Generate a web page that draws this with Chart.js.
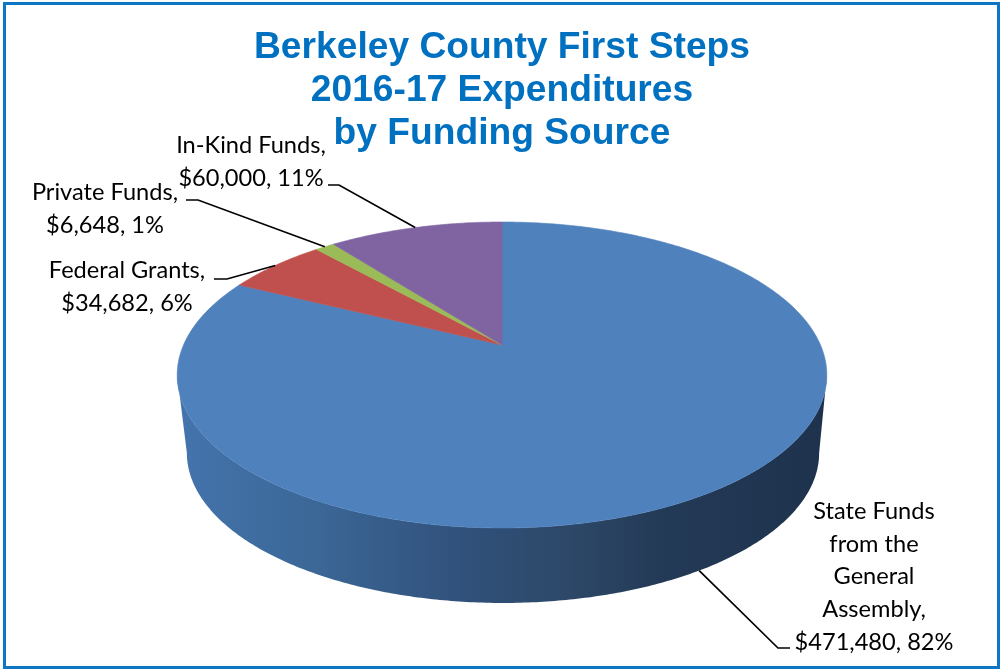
<!DOCTYPE html>
<html>
<head>
<meta charset="utf-8">
<title>Berkeley County First Steps</title>
<script src="https://cdn.jsdelivr.net/npm/chart.js@4"></script>
<style>
  html, body { margin: 0; padding: 0; background: #fff; }
  canvas { display: block; }
</style>
</head>
<body>
<canvas id="pie" width="1000" height="669"></canvas>
<script>
// Data
const titleLines = ['Berkeley County First Steps', '2016-17 Expenditures', 'by Funding Source'];
const categories = ['State Funds from the General Assembly', 'Federal Grants', 'Private Funds', 'In-Kind Funds'];
const amounts = [471480, 34682, 6648, 60000];
const amountLabels = ['$471,480', '$34,682', '$6,648', '$60,000'];
const percentLabels = ['82%', '6%', '1%', '11%'];
const sliceColors = ['#4f81bd', '#c0504d', '#9bbb59', '#8064a2'];

// Text lines per label, in the same order as categories
const labelLines = [
  ['State Funds', 'from the', 'General', 'Assembly,', amountLabels[0] + ', ' + percentLabels[0]],
  [categories[1] + ',', amountLabels[1] + ', ' + percentLabels[1]],
  [categories[2] + ',', amountLabels[2] + ', ' + percentLabels[2]],
  [categories[3] + ',', amountLabels[3] + ', ' + percentLabels[3]]
];

// Label placement: text centre, first baseline, leader start and elbow
const labelBoxes = [
  { x: 874, y: 519, from: [790, 648], elbow: [778, 648] },
  { x: 127, y: 278, from: [214, 279], elbow: [227, 279] },
  { x: 105, y: 200, from: [186, 200], elbow: [198, 200] },
  { x: 251, y: 153, from: [328, 185], elbow: [339, 185] }
];

// Perspective of the disc: the circle is projected, so the centre is not the ellipse centre
const K = -0.196;
const topDisc = { x: 502, y: 345, rx: 318.5, ry: 147.1 };
const baseDisc = { x: 503, y: 423.6, rx: 310, ry: 144.2 };

function project(disc, a) {
  const d = 1 + K * Math.sin(a);
  return [disc.x + disc.rx * Math.cos(a) / d, disc.y + disc.ry * Math.sin(a) / d];
}

function rimPoints(disc, a0, a1) {
  const pts = [];
  const n = Math.max(2, Math.ceil(Math.abs(a1 - a0) / 0.01));
  for (let i = 0; i <= n; i++) pts.push(project(disc, a0 + (a1 - a0) * i / n));
  return pts;
}

function drawWall(ctx, arc) {
  // only the front part of the side can be seen
  const vis = Math.asin(-K);
  const a0 = Math.max(arc.startAngle, vis);
  const a1 = Math.min(arc.endAngle, Math.PI - vis);
  if (a1 <= a0) return;
  const grad = ctx.createLinearGradient(178, 0, 827, 0);
  grad.addColorStop(0, '#4474ad');
  grad.addColorStop(0.2, '#3c6898');
  grad.addColorStop(0.45, '#30507a');
  grad.addColorStop(0.6, '#2d4868');
  grad.addColorStop(0.75, '#233a56');
  grad.addColorStop(1, '#1e324d');
  const pts = rimPoints(topDisc, a0, a1).concat(rimPoints(baseDisc, a1, a0));
  ctx.beginPath();
  pts.forEach((p, i) => (i ? ctx.lineTo(p[0], p[1]) : ctx.moveTo(p[0], p[1])));
  ctx.closePath();
  ctx.fillStyle = grad;
  ctx.fill();
}

function drawSlice(ctx, arc) {
  const pts = rimPoints(topDisc, arc.startAngle, arc.endAngle);
  ctx.beginPath();
  ctx.moveTo(topDisc.x, topDisc.y);
  pts.forEach(p => ctx.lineTo(p[0], p[1]));
  ctx.closePath();
  ctx.fillStyle = arc.options.backgroundColor;
  ctx.strokeStyle = arc.options.backgroundColor;
  ctx.lineWidth = 0.6;
  ctx.fill();
  ctx.stroke();
}

function drawLabel(ctx, arc, i) {
  const box = labelBoxes[i];
  const mid = (arc.startAngle + arc.endAngle) / 2;
  // the state label points at the lower edge of the side wall
  const end = project(i === 0 ? baseDisc : topDisc, mid);
  ctx.beginPath();
  ctx.moveTo(box.from[0], box.from[1]);
  ctx.lineTo(box.elbow[0], box.elbow[1]);
  ctx.lineTo(end[0], end[1]);
  ctx.strokeStyle = '#000';
  ctx.lineWidth = 1.7;
  ctx.stroke();

  ctx.fillStyle = '#000';
  ctx.font = '23.6px Lato';
  ctx.textAlign = 'center';
  ctx.textBaseline = 'alphabetic';
  labelLines[i].forEach((line, j) => ctx.fillText(line, box.x, box.y + j * 32.7));
}

// Draws the arcs Chart.js laid out as a tilted 3D disc
const pie3d = {
  id: 'pie3d',
  beforeDatasetsDraw(chart) {
    const ctx = chart.ctx;
    const arcs = chart.getDatasetMeta(0).data;
    ctx.save();
    arcs.forEach(arc => drawWall(ctx, arc));
    arcs.forEach(arc => drawSlice(ctx, arc));
    arcs.forEach((arc, i) => drawLabel(ctx, arc, i));
    ctx.strokeStyle = '#0f75c5';
    ctx.lineWidth = 3;
    ctx.strokeRect(4.5, 3.5, 994, 664);
    ctx.restore();
    return false;
  }
};

new Chart(document.getElementById('pie').getContext('2d'), {
  type: 'pie',
  data: {
    labels: categories,
    datasets: [{ data: amounts, backgroundColor: sliceColors, borderWidth: 0 }]
  },
  options: {
    responsive: false,
    animation: false,
    devicePixelRatio: 1,
    layout: { padding: { left: 4 } },
    plugins: {
      legend: { display: false },
      tooltip: { enabled: false },
      title: {
        display: true,
        text: titleLines,
        color: '#0070c0',
        align: 'center',
        padding: { top: 26, bottom: 0 },
        font: { family: 'Liberation Sans', size: 37.2, weight: 'bold', lineHeight: 1.155 }
      }
    }
  },
  plugins: [pie3d]
});
</script>
</body>
</html>
